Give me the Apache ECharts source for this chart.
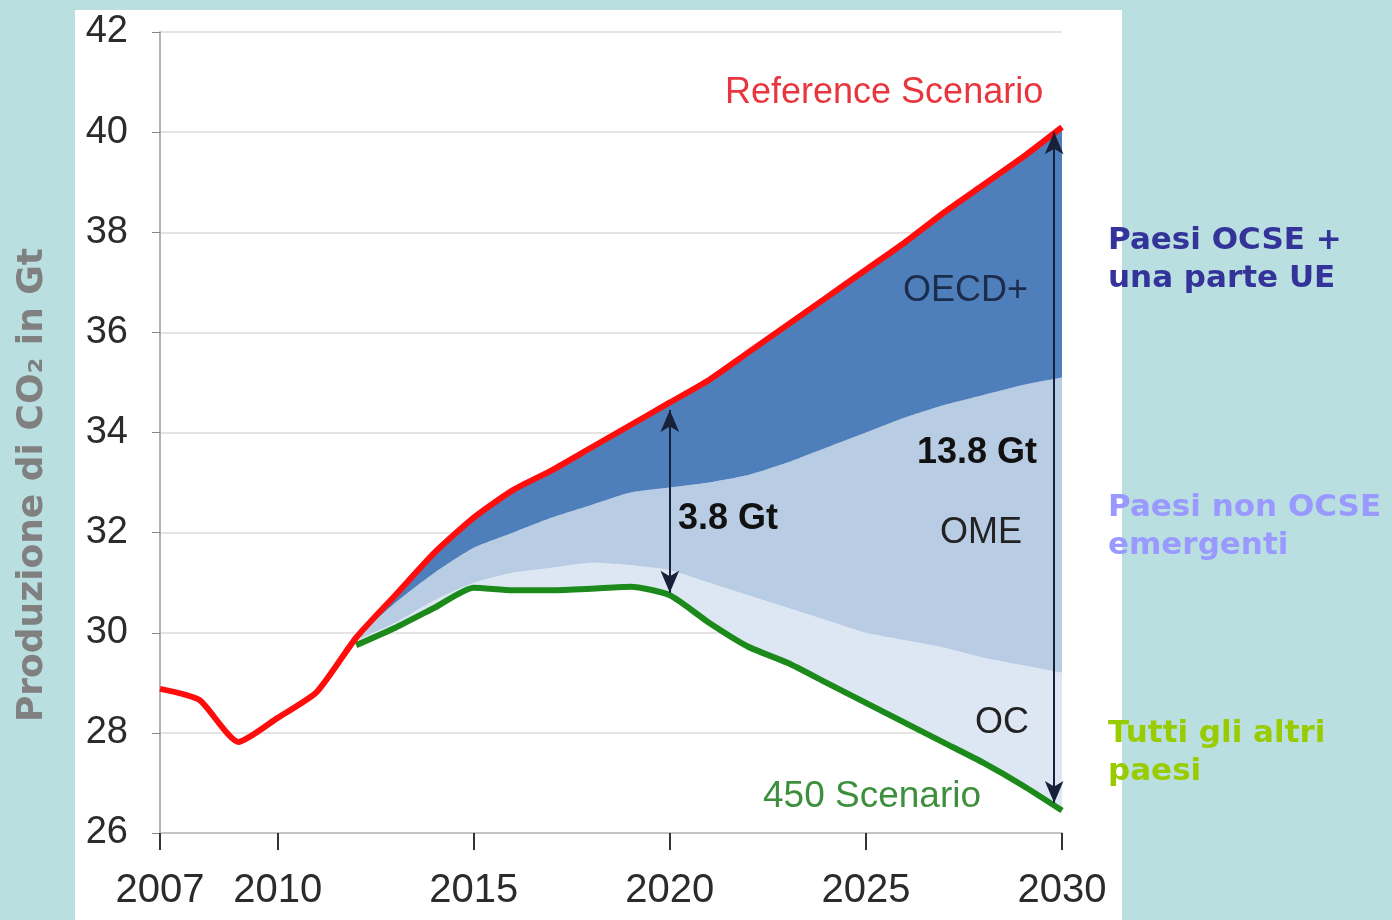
<!DOCTYPE html>
<html><head><meta charset="utf-8">
<script src="https://cdn.jsdelivr.net/npm/echarts@6/dist/echarts.min.js"></script>
<style>
html,body{margin:0;padding:0;background:#b9dfe1;width:1392px;height:920px;overflow:hidden;}
#panel{position:absolute;left:75px;top:10px;width:1047px;height:910px;background:#fff;}
#chart{position:absolute;left:0;top:0;width:1392px;height:920px;}
</style></head><body>
<div id="panel"></div><div id="chart"></div>
<script>
// ---- data ----
const years = ['2007','2008','2009','2010','2011','2012','2013','2014','2015','2016','2017','2018','2019','2020','2021','2022','2023','2024','2025','2026','2027','2028','2029','2030'];
const referenceScenario = [28.88,28.66,27.82,28.3,28.82,29.9,30.75,31.6,32.3,32.85,33.25,33.7,34.15,34.6,35.05,35.6,36.15,36.7,37.25,37.8,38.4,38.95,39.5,40.1];
const projectionYears = ['2012','2013','2014','2015','2016','2017','2018','2019','2020','2021','2022','2023','2024','2025','2026','2027','2028','2029','2030'];
const scenario450 = [29.75,30.1,30.5,30.9,30.85,30.85,30.88,30.92,30.75,30.2,29.72,29.4,29.0,28.6,28.2,27.8,27.4,26.95,26.45];
const omeTop = [29.9,30.6,31.2,31.7,32.0,32.3,32.55,32.8,32.9,33.0,33.15,33.4,33.7,34.0,34.3,34.55,34.75,34.95,35.1];
const ocTop = [29.85,30.2,30.65,31.0,31.2,31.3,31.4,31.35,31.25,31.0,30.75,30.5,30.25,30.0,29.85,29.7,29.5,29.35,29.2];
const xTickLabels = ['2007','2010','2015','2020','2025','2030'];
const yTickLabels = [26,28,30,32,34,36,38,40,42];
const gapYears = [2020, 2029.8];

// ---- build ----
const refOffset = years.indexOf(projectionYears[0]);
const pad = arr => years.map((y, i) => (i < refOffset ? '-' : arr[i - refOffset]));
const baseVals = pad(scenario450);
const ocVals = pad(ocTop.map((v, i) => +(v - scenario450[i]).toFixed(3)));
const omeVals = pad(omeTop.map((v, i) => +(v - ocTop[i]).toFixed(3)));
const oecdVals = pad(omeTop.map((v, i) => +(referenceScenario[i + refOffset] - v).toFixed(3)));
const gi = projectionYears.indexOf('2020');
const last = projectionYears.length - 1;
const SM = 0.2;

const chart = echarts.init(document.getElementById('chart'), null, {renderer:'canvas'});
const labelFont = 'Liberation Sans, Arial, sans-serif';
const txt = (text, x, y, size, color, weight) => ({
  type:'text', x:x, y:y, z:100,
  style:{text:text, fontSize:size, fontFamily:labelFont, fontWeight:weight||'normal', fill:color, align:'left', verticalAlign:'middle'}
});
const side = (text, y, color) => ({
  type:'text', x:1108, y:y, z:100,
  style:{text:text, fontSize:31, lineHeight:38, fontFamily:'DejaVu Sans, Verdana, sans-serif', fontWeight:'bold', fill:color, align:'left', verticalAlign:'top'}
});

chart.setOption({
  animation:false,
  backgroundColor:'transparent',
  grid:{left:160, right:330, top:32, bottom:87, containLabel:false},
  xAxis:[{
    type:'category', data:years, boundaryGap:false,
    axisLine:{show:true, onZero:false, lineStyle:{color:'#c4c4c4', width:2}},
    axisTick:{show:true, interval:(i)=>xTickLabels.indexOf(years[i]) >= 0, length:17, lineStyle:{color:'#333', width:2}},
    axisLabel:{interval:(i)=>xTickLabels.indexOf(years[i]) >= 0, fontSize:40, color:'#2b2b2b', margin:38, fontFamily:labelFont},
    splitLine:{show:false}
  },{
    type:'value', min:2007, max:2030, show:false
  }],
  yAxis:{
    type:'value', min:26, max:42, interval:2,
    axisLine:{show:true, lineStyle:{color:'#9a9a9a', width:1.5}},
    axisTick:{show:true, length:8, lineStyle:{color:'#888'}},
    axisLabel:{fontSize:38, color:'#2b2b2b', margin:32, fontFamily:labelFont,
      formatter:v=> yTickLabels.indexOf(v) >= 0 ? String(v) : ''},
    splitLine:{lineStyle:{color:'#e4e4e4', width:2}}
  },
  series:[
    {name:'base', type:'line', stack:'co2', data:baseVals, smooth:SM, showSymbol:false, symbol:'none', lineStyle:{width:0}, z:1},
    {name:'OC', type:'line', stack:'co2', data:ocVals, smooth:SM, showSymbol:false, symbol:'none', lineStyle:{width:0}, areaStyle:{color:'#dde7f3', opacity:1}, z:1},
    {name:'OME', type:'line', stack:'co2', data:omeVals, smooth:SM, showSymbol:false, symbol:'none', lineStyle:{width:0}, areaStyle:{color:'#b8cce4', opacity:1}, z:1},
    {name:'OECD+', type:'line', stack:'co2', data:oecdVals, smooth:SM, showSymbol:false, symbol:'none', lineStyle:{width:0}, areaStyle:{color:'#4f7fba', opacity:1}, z:1},
    {name:'450 Scenario', type:'line', data:baseVals.slice(), smooth:SM, symbol:'none', lineStyle:{color:'#1b8a1b', width:6}, z:3},
    {name:'Reference Scenario', type:'line', data:referenceScenario, smooth:SM, symbol:'none', lineStyle:{color:'#ff0d0d', width:6}, z:4},
    {name:'gaps', type:'line', xAxisIndex:1, data:[], z:5,
      markLine:{silent:true, symbol:['arrow','arrow'], symbolSize:[14,22], label:{show:false},
        lineStyle:{color:'#18213a', width:2, type:'solid'}, emphasis:{disabled:true},
        data:[
          [{coord:[gapYears[0], referenceScenario[gi + refOffset] - 0.15]}, {coord:[gapYears[0], scenario450[gi] + 0.05]}],
          [{coord:[gapYears[1], referenceScenario[last + refOffset] - 0.1]}, {coord:[gapYears[1], scenario450[last] + 0.15]}]
        ]}
    }
  ],
  graphic:[
    {type:'text', x:33, y:485, rotation:Math.PI/2, z:100,
      style:{text:'Produzione di CO₂ in Gt', fontSize:36, fontWeight:'bold', fontFamily:'DejaVu Sans, Verdana, sans-serif', fill:'#808080', align:'center', verticalAlign:'middle'}},
    txt('Reference Scenario', 725, 93, 36, '#e8363f'),
    txt('OECD+', 903, 291, 36, '#1c2c4c'),
    txt('13.8 Gt', 917, 453, 36, '#111', 'bold'),
    txt('3.8 Gt', 678, 519, 36, '#111', 'bold'),
    txt('OME', 940, 533, 36, '#222'),
    txt('OC', 975, 723, 36, '#222'),
    txt('450 Scenario', 763, 797, 37, '#3d8f3d'),
    side('Paesi OCSE +\nuna parte UE', 222, '#333399'),
    side('Paesi non OCSE\nemergenti', 489, '#9999ff'),
    side('Tutti gli altri\npaesi', 715, '#99cc00')
  ]
});
</script>
</body></html>
